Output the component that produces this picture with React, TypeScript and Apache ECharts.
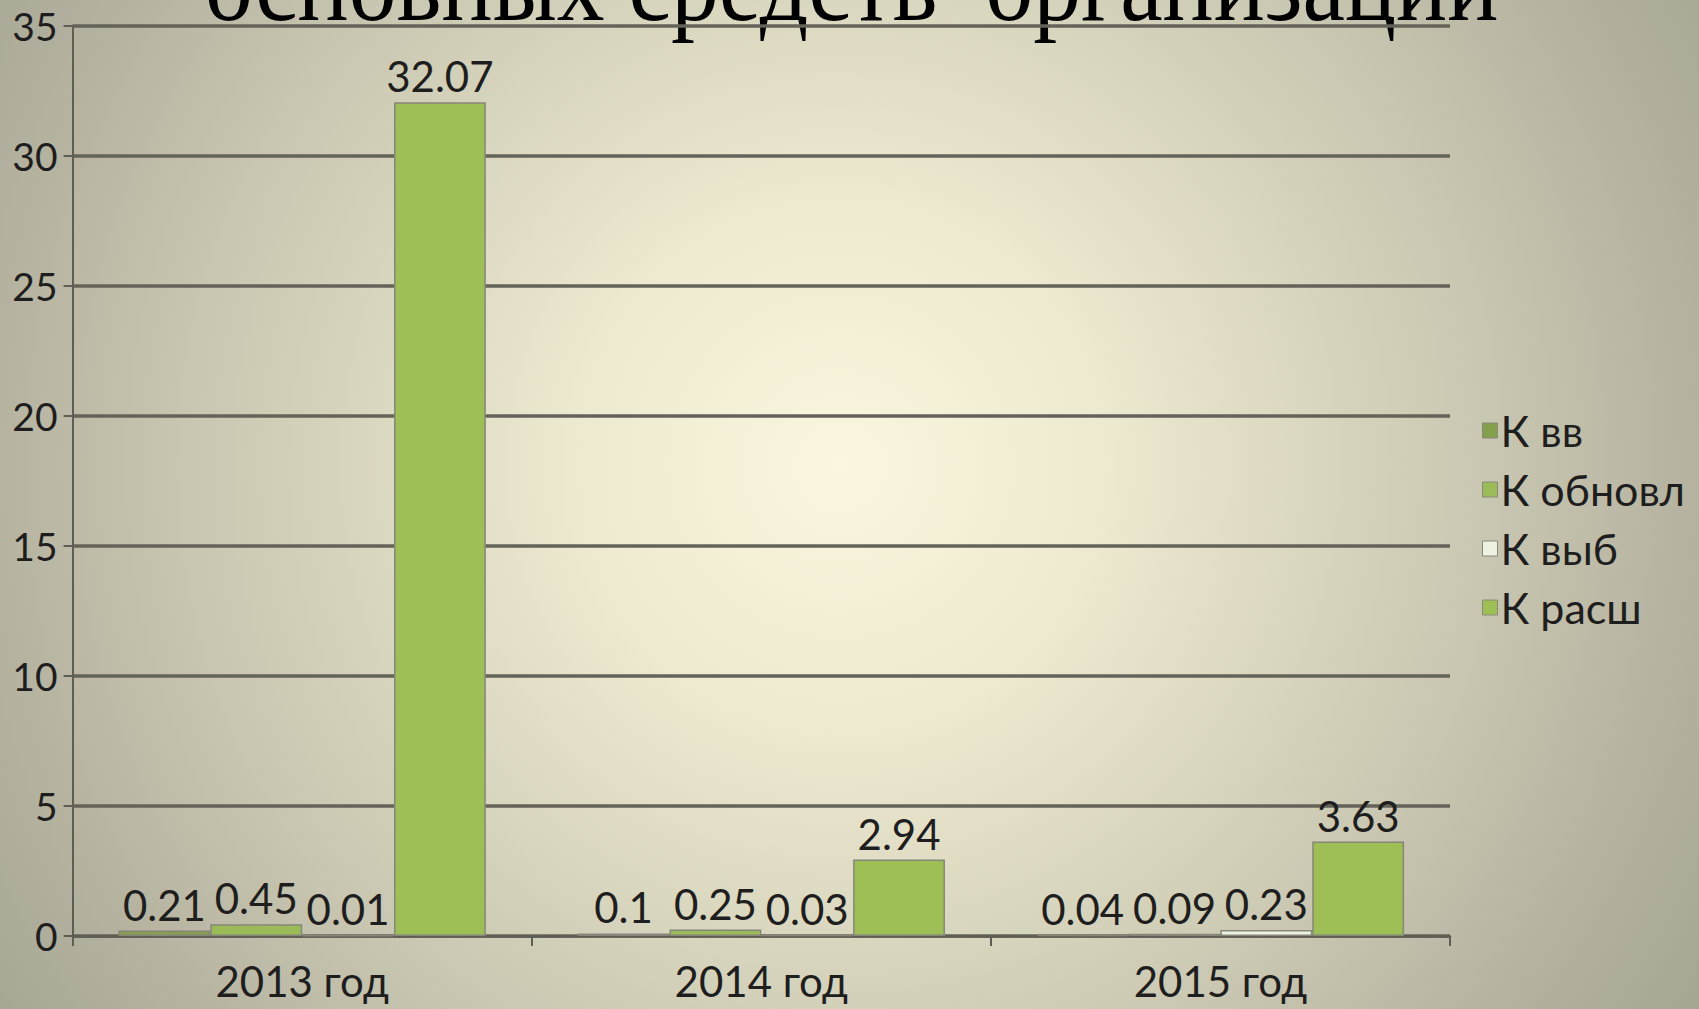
import React, { useEffect, useRef } from "react";
import * as echarts from "echarts";

const categories = ["2013 год", "2014 год", "2015 год"];
const seriesNames = ["К вв", "К обновл", "К выб", "К расш"];
const kVv = [0.21, 0.1, 0.04];
const kObnovl = [0.45, 0.25, 0.09];
const kVyb = [0.01, 0.03, 0.23];
const kRassh = [32.07, 2.94, 3.63];
const seriesColors = ["#84a04c", "#9bbb59", "#eef2e1", "#9dbf55"];
const titleText = "основных средств  организации";

export default function App() {
  const ref = useRef<HTMLDivElement>(null);
  useEffect(() => {
    document.body.style.margin = "0";
    const chart = echarts.init(ref.current!, null, { renderer: "svg" });
    const values = [kVv, kObnovl, kVyb, kRassh];
    const labelFont = { fontFamily: "Lato", fontSize: 42, color: "#1e1e1e" };
    chart.setOption({
      animation: false,
      backgroundColor: {
        type: "radial",
        x: 840,
        y: 466,
        r: 1050,
        global: true,
        colorStops: [
          { offset: 0, color: "#fbf7de" },
          { offset: 0.25, color: "#eeead0" },
          { offset: 0.55, color: "#d0cdb7" },
          { offset: 0.8, color: "#b6b4a1" },
          { offset: 1, color: "#a3a190" },
        ],
      },
      graphic: [
        {
          type: "text",
          x: 205,
          y: -70,
          scaleX: 0.975,
          scaleY: 1.1,
          style: {
            text: titleText,
            font: "98px 'Liberation Serif'",
            fill: "#000",
          },
        },
      ],
      grid: { left: 72.6, right: 249, top: 26, bottom: 73, containLabel: false },
      legend: {
        orient: "vertical",
        left: 1477,
        top: 404,
        itemWidth: 15,
        itemHeight: 15,
        itemGap: 16,
        itemStyle: { borderColor: "#8a8a7a", borderWidth: 1 },
        textStyle: { fontFamily: "Lato", fontSize: 43, color: "#1e1e1e", padding: [0, 0, 0, -2] },
        data: seriesNames,
        icon: "rect",
      },
      xAxis: {
        type: "category",
        data: categories,
        axisLine: { lineStyle: { color: "#5e5e55", width: 2.5 } },
        axisTick: { show: true, length: 10, lineStyle: { color: "#5e5e55", width: 2 } },
        axisLabel: { ...labelFont, margin: 24 },
      },
      yAxis: {
        type: "value",
        min: 0,
        max: 35,
        interval: 5,
        axisLine: { show: true, lineStyle: { color: "#5e5e55", width: 2 } },
        axisTick: { show: true, length: 9, lineStyle: { color: "#5e5e55", width: 2 } },
        axisLabel: { fontFamily: "Lato", fontSize: 39, color: "#1e1e1e", margin: 15 },
        splitLine: { lineStyle: { color: "#646359", width: 3.5 } },
      },
      series: seriesNames.map((name, i) => ({
        name,
        type: "bar",
        data: values[i],
        barGap: "0%",
        barCategoryGap: "20%",
        itemStyle: { color: seriesColors[i], borderColor: "#86867a", borderWidth: 1.5 },
        label: { show: true, position: "top", distance: 5, ...labelFont },
      })),
    });
    return () => chart.dispose();
  }, []);
  return <div ref={ref} style={{ width: 1699, height: 1009 }} />;
}
